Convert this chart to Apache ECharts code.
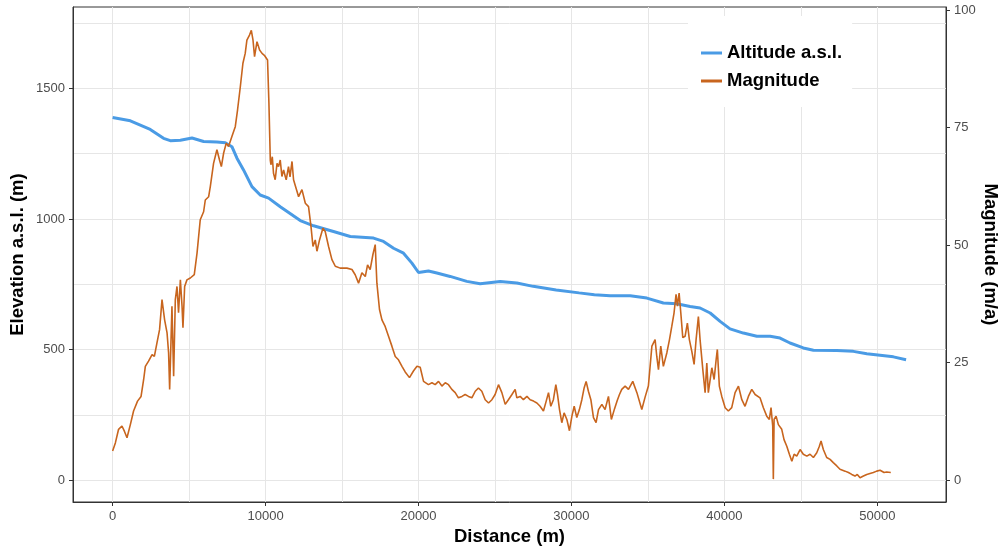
<!DOCTYPE html>
<html>
<head>
<meta charset="utf-8">
<script src="https://cdn.jsdelivr.net/npm/echarts@6/dist/echarts.min.js"></script>
<style>
  html, body { margin: 0; padding: 0; background: #fff; }
  #chart { width: 1003px; height: 550px; }
</style>
</head>
<body>
<div id="chart"></div>
<script>
// altitude profile (m a.s.l.) along the flowline
const altDist = [0, 1160, 2460, 3330, 3770, 4430, 5190, 5950, 6820, 7370, 7800, 8130, 8560, 9110, 9650,
  10200, 10960, 12270, 13140, 14440, 15540, 17060, 17710, 18370, 19020, 19570, 20000, 20650, 21200, 22070,
  23160, 24030, 25340, 26430, 27500, 29000, 30500, 31500, 32530, 33840, 34930, 36010, 36890, 37760, 38410,
  39070, 39720, 40370, 41240, 42120, 42990, 43640, 44290, 45160, 45820, 47350, 48430, 49310, 50180, 51050, 51880]
const altElev = [1389, 1376, 1343, 1309, 1300, 1302, 1310, 1297, 1295, 1292, 1277, 1233, 1188, 1124, 1092,
  1080, 1047, 994, 974, 952, 933, 927, 914, 888, 869, 831, 795, 801, 793, 780,
  761, 752, 761, 755, 742, 728, 717, 710, 706, 706, 697, 678, 675, 665, 659,
  640, 608, 579, 563, 551, 551, 544, 525, 506, 497, 496, 493, 484, 478, 472, 461]

// velocity magnitude (m/a)
const magDist = [0, 180, 390, 610, 770, 940, 1160, 1370, 1630, 1860, 2030, 2140, 2350, 2580, 2730, 2900, 3070,
  3230, 3400, 3560, 3660, 3730, 3820, 3880, 3990, 4100, 4210, 4310, 4430, 4540, 4600, 4710, 4860, 5080, 5190,
  5340, 5520, 5730, 5950, 6060, 6280, 6390, 6600, 6820, 6990, 7110, 7260, 7430, 7580, 7800, 8020, 8170, 8350,
  8520, 8670, 8780, 8950, 9070, 9180, 9280, 9440, 9610, 9770, 9920, 10050, 10130, 10220, 10310, 10350, 10440,
  10520, 10630, 10750, 10850, 10960, 11070, 11180, 11290, 11350, 11500, 11600, 11730, 11830, 11940, 12160,
  12380, 12600, 12810, 12970, 13100, 13250, 13360, 13530, 13750, 13900, 14120, 14340, 14560, 14880, 15320,
  15650, 15860, 16080, 16300, 16520, 16670, 16840, 17020, 17170, 17280, 17450, 17610, 17820, 18040, 18260,
  18480, 18690, 18920, 19130, 19410, 19670, 19900, 20110, 20330, 20650, 20880, 21090, 21310, 21530, 21750,
  21960, 22180, 22400, 22610, 22840, 23050, 23270, 23490, 23710, 23920, 24140, 24360, 24580, 24800, 25010,
  25230, 25450, 25670, 25880, 26110, 26320, 26430, 26650, 26860, 27090, 27300, 27520, 27740, 27950, 28170,
  28350, 28500, 28650, 28820, 28980, 29090, 29220, 29370, 29520, 29700, 29870, 30030, 30180, 30350, 30520,
  30680, 30830, 30960, 31110, 31270, 31440, 31610, 31770, 31990, 32200, 32420, 32610, 32820, 33000, 33140,
  33290, 33510, 33730, 34010, 34280, 34600, 34820, 35030, 35260, 35470, 35580, 35690, 35840, 36010, 36240,
  36410, 36560, 36710, 36840, 36930, 37040, 37150, 37280, 37430, 37580, 37710, 37870, 38020, 38150, 38300,
  38410, 38590, 38740, 38850, 38950, 39180, 39330, 39460, 39540, 39670, 39830, 40050, 40260, 40480, 40700,
  40920, 41140, 41350, 41570, 41790, 42010, 42330, 42550, 42770, 42940, 43050, 43160, 43200, 43250, 43380,
  43530, 43750, 43900, 44080, 44250, 44410, 44560, 44730, 44950, 45160, 45390, 45600, 45820, 46040, 46210,
  46320, 46470, 46690, 46910, 47120, 47350, 47560, 47890, 48110, 48330, 48540, 48690, 48870, 49090, 49310,
  49520, 49740, 49960, 50180, 50290, 50440, 50610, 50880]
const magRate = [6.2, 7.9, 10.8, 11.5, 10.4, 9.0, 11.8, 14.7, 16.8, 17.8, 21.4, 24.2, 25.3, 26.7, 26.3, 29.2, 32.0,
  38.4, 34.1, 31.3, 27.1, 19.3, 29.9, 37.0, 22.1, 38.4, 41.2, 35.6, 42.6, 37.0, 32.4, 41.2, 42.6, 43.0, 43.3,
  43.7, 48.3, 55.4, 57.1, 59.6, 60.3, 62.5, 67.4, 70.3, 68.1, 66.7, 69.6, 71.7, 71.0, 73.1, 75.2, 78.8, 83.7,
  88.7, 90.8, 93.6, 94.7, 95.7, 93.6, 90.1, 93.3, 91.5, 90.8, 90.4, 90.1, 89.4, 80.2, 68.1, 67.1, 68.8,
  65.3, 63.9, 67.4, 66.7, 68.1, 64.6, 66.0, 64.6, 63.9, 66.7, 64.5, 67.8, 63.9, 63.9, 60.3,
  61.8, 58.9, 58.2, 54.0, 49.7, 51.1, 48.7, 51.1, 53.6, 52.9, 49.7, 46.9, 45.5, 45.1, 45.1,
  44.8, 43.7, 41.9, 44.1, 43.3, 45.8, 44.8, 48.0, 50.1, 41.9, 36.3, 34.1, 32.7, 30.6, 28.5,
  26.3, 25.6, 24.2, 23.0, 21.8, 23.2, 24.2, 24.0, 21.0, 20.3, 20.7, 20.3, 21.0, 20.0, 20.7,
  20.3, 19.3, 18.6, 17.5, 17.8, 18.2, 17.8, 17.5, 18.9, 19.6, 18.9, 17.1, 16.4, 17.1, 18.2,
  20.3, 18.6, 16.1, 17.1, 18.2, 19.3, 17.5, 17.8, 17.1, 17.8, 17.1, 16.8, 16.4, 15.7, 14.7,
  16.8, 18.6, 15.7, 17.1, 20.3, 18.2, 15.0, 12.2, 14.3, 12.9, 10.5, 13.6, 15.7, 13.3, 15.0,
  17.1, 19.6, 21.0, 18.9, 17.1, 13.3, 12.2, 15.0, 16.1, 15.0, 17.8, 12.9, 15.2, 17.0, 18.2,
  19.3, 20.0, 19.3, 21.0, 18.6, 15.0, 17.7, 20.0, 28.5, 29.9, 26.3, 23.5, 28.5, 24.2, 27.1,
  29.9, 32.7, 35.6, 39.5, 37.0, 39.8, 35.6, 30.3, 30.6, 33.4, 29.9, 27.4, 24.6, 29.9, 34.8,
  29.9, 23.5, 18.6, 24.9, 18.6, 23.9, 21.4, 25.6, 27.8, 20.0, 17.8, 15.4, 14.7, 15.4, 18.6,
  20.0, 17.1, 15.7, 17.8, 19.3, 18.2, 17.5, 15.4, 13.6, 12.9, 15.4, 11.5, 0.2, 12.9, 13.6,
  11.8, 10.8, 8.6, 7.2, 5.5, 4.0, 5.5, 5.1, 6.5, 5.5, 5.1, 5.5, 4.8, 5.8, 7.2,
  8.3, 6.5, 4.8, 4.4, 3.7, 3.0, 2.3, 1.9, 1.6, 1.2, 0.85, 1.2, 0.5, 0.85, 1.2,
  1.4, 1.6, 1.9, 2.1, 1.9, 1.6, 1.7, 1.6]

const elevTicks = [0, 500, 1000, 1500]
const magTicks = [0, 25, 50, 75, 100]
const distTicks = [0, 10000, 20000, 30000, 40000, 50000]

const FONT = 'Liberation Sans'
const chart = echarts.init(document.getElementById('chart'))

const tickLabel = { color: '#4D4D4D', fontSize: 13, fontFamily: FONT, margin: 8, formatter: v => String(v) }
const titleText = { color: '#000', fontSize: 18.5, fontWeight: 'bold', fontFamily: FONT }
const gridLine = { show: true, lineStyle: { color: '#E6E6E6', width: 1 } }
const frameLine = { show: true, onZero: false, lineStyle: { color: '#333' } }
const tickLine = { show: true, inside: false, length: 4, lineStyle: { color: '#333' } }

const option = {
  animation: false,
  backgroundColor: '#fff',
  grid: {
    left: 73, right: 57, top: 7, bottom: 48,
    outerBoundsMode: 'none',
    containLabel: false,
    show: true, borderColor: '#333', borderWidth: 1, backgroundColor: '#fff'
  },
  legend: {
    data: ['Altitude a.s.l.', 'Magnitude'],
    orient: 'vertical',
    left: 688, top: 16,
    padding: [27, 10, 16, 13],
    backgroundColor: '#fff',
    icon: 'rect',
    itemWidth: 21, itemHeight: 3, itemGap: 8,
    textStyle: { color: '#000', fontSize: 18.5, fontWeight: 'bold', fontFamily: FONT, lineHeight: 20 }
  },
  xAxis: {
    type: 'value',
    min: -2590, max: 54490,
    splitNumber: 5,
    name: 'Distance (m)', nameLocation: 'middle', nameGap: 25, nameMoveOverlap: false,
    nameTextStyle: titleText,
    axisLine: frameLine,
    axisTick: Object.assign({ customValues: distTicks }, tickLine),
    axisLabel: Object.assign({ customValues: distTicks }, tickLabel),
    splitLine: gridLine,
    minorTick: { show: false, splitNumber: 2 },
    minorSplitLine: gridLine
  },
  yAxis: [{
    type: 'value',
    min: -84, max: 1812,
    splitNumber: 4,
    name: 'Elevation a.s.l. (m)', nameLocation: 'middle', nameGap: 46, nameMoveOverlap: false,
    nameTextStyle: titleText,
    axisLine: frameLine,
    axisTick: Object.assign({ customValues: elevTicks }, tickLine),
    axisLabel: Object.assign({ customValues: elevTicks }, tickLabel),
    splitLine: gridLine,
    minorTick: { show: false, splitNumber: 2 },
    minorSplitLine: gridLine
  }, {
    type: 'value',
    position: 'right',
    min: -4.67, max: 100.67,
    name: 'Magnitude (m/a)', nameLocation: 'middle', nameGap: 35, nameRotate: -90, nameMoveOverlap: false,
    nameTextStyle: titleText,
    axisLine: frameLine,
    axisTick: Object.assign({ customValues: magTicks }, tickLine),
    axisLabel: Object.assign({ customValues: magTicks }, tickLabel),
    splitLine: { show: false }
  }],
  series: [{
    name: 'Altitude a.s.l.',
    type: 'line',
    yAxisIndex: 0,
    showSymbol: false,
    data: altDist.map((d, i) => [d, altElev[i]]),
    itemStyle: { color: '#4A9BE5' },
    lineStyle: { color: '#4A9BE5', width: 3 }
  }, {
    name: 'Magnitude',
    type: 'line',
    yAxisIndex: 1,
    showSymbol: false,
    data: magDist.map((d, i) => [d, magRate[i]]),
    itemStyle: { color: '#C8651E' },
    lineStyle: { color: '#C8651E', width: 1.6 }
  }]
}

chart.setOption(option)
</script>
</body>
</html>
